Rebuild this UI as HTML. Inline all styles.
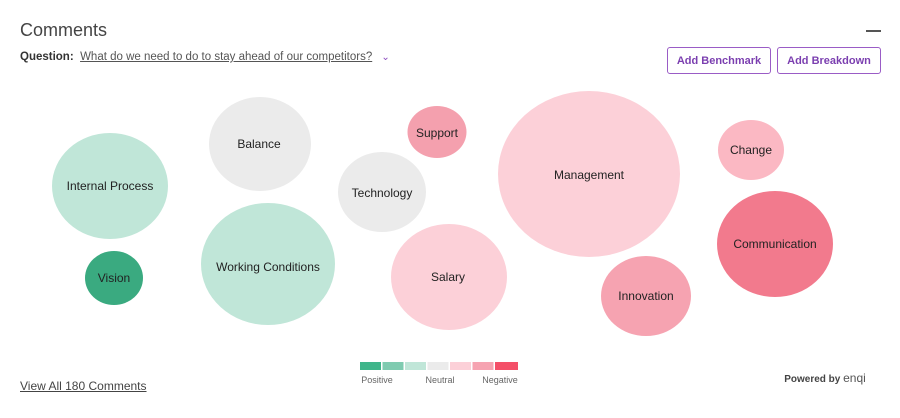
<!DOCTYPE html>
<html><head><meta charset="utf-8"><style>
html,body{margin:0;padding:0;background:#fff;width:900px;height:418px;overflow:hidden;font-family:"Liberation Sans",sans-serif;}
.abs{position:absolute}
.btn{position:absolute;top:47px;border:1.5px solid #9a5cc6;border-radius:3px;color:#7b3fb0;font-size:11px;font-weight:bold;display:flex;align-items:center;justify-content:center;box-sizing:border-box;height:27px}
</style></head><body>
<div class="abs" style="left:20px;top:51px;font-size:11.5px;color:#333"><b>Question:</b>&nbsp; <span style="text-decoration:underline;color:#555">What do we need to do to stay ahead of our competitors?</span> <span style="color:#8b4bbf;font-size:10px;margin-left:6px">&#8964;</span></div>
<div class="abs" style="left:20px;top:20px;font-size:18px;color:#444">Comments</div>
<div class="abs" style="left:866px;top:30px;width:15px;height:2px;background:#555"></div>
<div class="btn" style="left:667px;width:104px">Add Benchmark</div>
<div class="btn" style="left:777px;width:104px">Add Breakdown</div>
<svg class="abs" style="left:0;top:0" width="900" height="418" font-family="Liberation Sans, sans-serif" font-size="12" fill="#222" text-anchor="middle">
<ellipse cx="110" cy="186" rx="58" ry="53" fill="#c0e6d8"/><text x="110" y="190">Internal Process</text>
<ellipse cx="114" cy="278" rx="29" ry="27" fill="#3aaa80"/><text x="114" y="282">Vision</text>
<ellipse cx="260" cy="144" rx="51" ry="47" fill="#ebebeb"/><text x="259" y="148">Balance</text>
<ellipse cx="268" cy="264" rx="67" ry="61" fill="#c0e6d8"/><text x="268" y="271">Working Conditions</text>
<ellipse cx="382" cy="192" rx="44" ry="40" fill="#ebebeb"/><text x="382" y="197">Technology</text>
<ellipse cx="437" cy="132" rx="29.5" ry="26" fill="#f4a0ae"/><text x="437" y="137">Support</text>
<ellipse cx="449" cy="277" rx="58" ry="53" fill="#fcd0d8"/><text x="448" y="281">Salary</text>
<ellipse cx="589" cy="174" rx="91" ry="83" fill="#fcd0d8"/><text x="589" y="179">Management</text>
<ellipse cx="646" cy="296" rx="45" ry="40" fill="#f6a3b1"/><text x="646" y="300">Innovation</text>
<ellipse cx="751" cy="150" rx="33" ry="30" fill="#fbb8c3"/><text x="751" y="154">Change</text>
<ellipse cx="775" cy="244" rx="58" ry="53" fill="#f27a8d"/><text x="775" y="248">Communication</text>
<g>
<rect x="360" y="362" width="21" height="8" fill="#3fb58a"/>
<rect x="382.5" y="362" width="21" height="8" fill="#7fcbb0"/>
<rect x="405" y="362" width="21" height="8" fill="#c0e6d8"/>
<rect x="427.5" y="362" width="21" height="8" fill="#ebebeb"/>
<rect x="450" y="362" width="21" height="8" fill="#fcd0d8"/>
<rect x="472.5" y="362" width="21" height="8" fill="#f6a3b1"/>
<rect x="495" y="362" width="23" height="8" fill="#f44f68"/>
</g>
<g font-size="9" fill="#666">
<text x="377" y="383">Positive</text><text x="440" y="383">Neutral</text><text x="500" y="383">Negative</text>
</g>
<text x="825" y="382" font-size="10" font-weight="bold" fill="#444">Powered by <tspan font-weight="normal" font-size="12" fill="#555">enqi</tspan></text>
</svg>
<div class="abs" style="left:20px;top:379px;font-size:12px;color:#444;text-decoration:underline">View All 180 Comments</div>
</body></html>
